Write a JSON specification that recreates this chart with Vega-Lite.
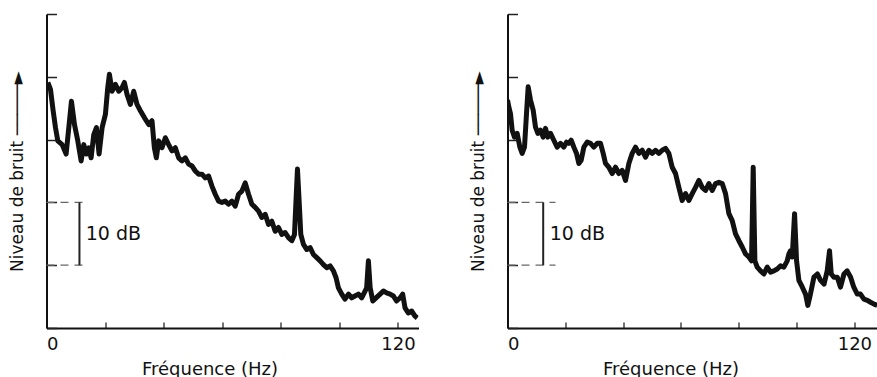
{
  "$schema": "https://vega.github.io/schema/vega-lite/v6.json",
  "padding": {"left": 8.5, "top": 13, "right": 0, "bottom": 0},
  "background": "#ffffff",
  "spacing": 51,
  "config": {
    "font": "DejaVu Sans",
    "view": {"stroke": null},
    "axis": {"grid": false, "titleFontWeight": "normal", "labelColor": "#111", "titleColor": "#111"}
  },
  "datasets": {
    "left": [
      {"f": 0.45, "db": 39.1}, {"f": 1.36, "db": 38.0}, {"f": 2.27, "db": 34.6}, {"f": 3.07, "db": 31.9}, {"f": 3.86, "db": 29.8},
      {"f": 5.34, "db": 29.2}, {"f": 6.7, "db": 27.7}, {"f": 7.61, "db": 31.9}, {"f": 8.52, "db": 36.1}, {"f": 9.55, "db": 32.4},
      {"f": 10.68, "db": 29.8}, {"f": 11.82, "db": 26.6}, {"f": 12.73, "db": 29.2}, {"f": 13.64, "db": 27.7}, {"f": 14.43, "db": 28.7},
      {"f": 15.23, "db": 27.1}, {"f": 16.14, "db": 30.8}, {"f": 17.05, "db": 31.9}, {"f": 17.95, "db": 27.7}, {"f": 18.98, "db": 31.9},
      {"f": 20.11, "db": 34.0}, {"f": 20.91, "db": 38.3}, {"f": 21.48, "db": 40.4}, {"f": 22.39, "db": 37.7}, {"f": 23.52, "db": 38.8},
      {"f": 24.66, "db": 37.7}, {"f": 25.8, "db": 38.3}, {"f": 26.59, "db": 39.1}, {"f": 27.5, "db": 37.2}, {"f": 28.64, "db": 35.6},
      {"f": 29.77, "db": 37.7}, {"f": 30.91, "db": 35.6}, {"f": 32.05, "db": 34.6}, {"f": 33.41, "db": 33.5}, {"f": 34.89, "db": 32.4},
      {"f": 36.02, "db": 33.0}, {"f": 36.82, "db": 28.7}, {"f": 37.5, "db": 27.1}, {"f": 38.3, "db": 29.8}, {"f": 39.43, "db": 28.7},
      {"f": 40.57, "db": 30.3}, {"f": 41.7, "db": 29.2}, {"f": 42.84, "db": 28.2}, {"f": 43.98, "db": 28.7}, {"f": 45.11, "db": 27.1},
      {"f": 46.25, "db": 26.6}, {"f": 47.39, "db": 27.1}, {"f": 48.52, "db": 26.1}, {"f": 49.66, "db": 25.8}, {"f": 50.8, "db": 25.0},
      {"f": 51.93, "db": 24.5}, {"f": 53.07, "db": 24.5}, {"f": 54.2, "db": 23.9}, {"f": 55.34, "db": 24.2}, {"f": 56.48, "db": 22.6},
      {"f": 57.61, "db": 21.3}, {"f": 58.75, "db": 20.2}, {"f": 59.89, "db": 20.0}, {"f": 61.02, "db": 20.2}, {"f": 62.16, "db": 19.7},
      {"f": 63.3, "db": 20.2}, {"f": 64.43, "db": 19.4}, {"f": 65.57, "db": 21.3}, {"f": 66.7, "db": 21.8}, {"f": 67.84, "db": 23.1},
      {"f": 68.98, "db": 21.3}, {"f": 70.11, "db": 19.7}, {"f": 71.25, "db": 19.2}, {"f": 72.39, "db": 18.6}, {"f": 73.52, "db": 17.6},
      {"f": 74.66, "db": 18.1}, {"f": 75.8, "db": 16.5}, {"f": 76.93, "db": 17.0}, {"f": 78.07, "db": 15.4}, {"f": 79.2, "db": 16.0},
      {"f": 80.34, "db": 14.9}, {"f": 81.48, "db": 15.2}, {"f": 82.61, "db": 14.4}, {"f": 83.75, "db": 13.9}, {"f": 84.66, "db": 14.9},
      {"f": 85.23, "db": 20.8}, {"f": 85.68, "db": 25.3}, {"f": 86.25, "db": 20.2}, {"f": 86.82, "db": 14.9}, {"f": 87.73, "db": 13.3},
      {"f": 88.86, "db": 12.5}, {"f": 90.0, "db": 12.8}, {"f": 91.14, "db": 11.7}, {"f": 92.27, "db": 11.2}, {"f": 93.41, "db": 10.7},
      {"f": 94.55, "db": 10.1}, {"f": 95.68, "db": 9.6}, {"f": 96.82, "db": 9.9}, {"f": 97.95, "db": 9.1}, {"f": 98.86, "db": 8.0},
      {"f": 99.66, "db": 6.4}, {"f": 100.8, "db": 5.4}, {"f": 101.9, "db": 4.6}, {"f": 103.1, "db": 5.4}, {"f": 104.2, "db": 4.8},
      {"f": 105.3, "db": 5.1}, {"f": 106.5, "db": 5.4}, {"f": 107.6, "db": 4.8}, {"f": 108.8, "db": 5.9}, {"f": 109.3, "db": 6.4},
      {"f": 109.9, "db": 10.7}, {"f": 110.5, "db": 6.4}, {"f": 111.4, "db": 4.3}, {"f": 112.5, "db": 4.8}, {"f": 113.9, "db": 5.4},
      {"f": 115.0, "db": 5.9}, {"f": 116.1, "db": 5.6}, {"f": 117.3, "db": 5.4}, {"f": 118.4, "db": 5.1}, {"f": 119.5, "db": 4.3},
      {"f": 120.7, "db": 4.8}, {"f": 121.6, "db": 5.4}, {"f": 122.4, "db": 3.2}, {"f": 123.5, "db": 2.4}, {"f": 124.7, "db": 2.7},
      {"f": 125.8, "db": 1.9}, {"f": 126.6, "db": 1.6}
    ],
    "right": [
      {"f": 0.0, "db": 36.3}, {"f": 0.46, "db": 35.2}, {"f": 1.04, "db": 34.1}, {"f": 1.61, "db": 31.5}, {"f": 2.42, "db": 30.4},
      {"f": 3.34, "db": 31.0}, {"f": 4.27, "db": 28.8}, {"f": 5.07, "db": 27.8}, {"f": 5.88, "db": 28.8}, {"f": 6.57, "db": 34.1},
      {"f": 7.15, "db": 38.4}, {"f": 7.96, "db": 36.3}, {"f": 8.88, "db": 34.7}, {"f": 9.69, "db": 32.0}, {"f": 10.5, "db": 31.0},
      {"f": 11.42, "db": 31.5}, {"f": 12.34, "db": 30.4}, {"f": 13.15, "db": 31.8}, {"f": 13.96, "db": 30.4}, {"f": 14.88, "db": 31.0},
      {"f": 16.03, "db": 29.9}, {"f": 17.19, "db": 28.8}, {"f": 18.34, "db": 29.4}, {"f": 19.49, "db": 28.8}, {"f": 20.42, "db": 29.6},
      {"f": 21.22, "db": 29.4}, {"f": 22.03, "db": 29.9}, {"f": 22.95, "db": 28.8}, {"f": 23.88, "db": 27.8}, {"f": 24.68, "db": 26.2},
      {"f": 25.49, "db": 26.7}, {"f": 26.41, "db": 28.8}, {"f": 27.57, "db": 29.6}, {"f": 28.72, "db": 29.4}, {"f": 29.87, "db": 28.8},
      {"f": 31.03, "db": 29.4}, {"f": 32.18, "db": 29.4}, {"f": 33.1, "db": 27.8}, {"f": 33.91, "db": 26.2}, {"f": 35.06, "db": 25.6},
      {"f": 36.22, "db": 24.6}, {"f": 37.37, "db": 25.6}, {"f": 38.52, "db": 24.6}, {"f": 39.68, "db": 25.1}, {"f": 40.83, "db": 23.5},
      {"f": 41.98, "db": 26.2}, {"f": 43.14, "db": 27.8}, {"f": 44.29, "db": 28.8}, {"f": 45.44, "db": 27.8}, {"f": 46.6, "db": 28.3},
      {"f": 47.75, "db": 27.2}, {"f": 48.9, "db": 28.3}, {"f": 50.06, "db": 27.8}, {"f": 51.21, "db": 28.3}, {"f": 52.36, "db": 27.8},
      {"f": 53.52, "db": 28.3}, {"f": 54.67, "db": 28.6}, {"f": 55.82, "db": 27.8}, {"f": 56.98, "db": 25.6}, {"f": 58.13, "db": 24.6},
      {"f": 59.28, "db": 22.4}, {"f": 60.44, "db": 20.3}, {"f": 61.59, "db": 21.4}, {"f": 62.75, "db": 20.3}, {"f": 63.9, "db": 21.4},
      {"f": 65.05, "db": 22.4}, {"f": 66.21, "db": 23.5}, {"f": 67.36, "db": 22.4}, {"f": 68.51, "db": 21.9}, {"f": 69.67, "db": 23.0},
      {"f": 70.82, "db": 21.9}, {"f": 71.97, "db": 23.0}, {"f": 73.13, "db": 23.2}, {"f": 74.28, "db": 23.0}, {"f": 75.43, "db": 21.4},
      {"f": 76.59, "db": 18.2}, {"f": 77.74, "db": 17.1}, {"f": 78.89, "db": 15.0}, {"f": 80.05, "db": 13.9}, {"f": 81.2, "db": 12.9},
      {"f": 82.35, "db": 11.8}, {"f": 83.51, "db": 11.3}, {"f": 84.43, "db": 10.7}, {"f": 85.0, "db": 25.6}, {"f": 85.58, "db": 10.7},
      {"f": 86.39, "db": 9.7}, {"f": 87.54, "db": 9.1}, {"f": 88.7, "db": 8.6}, {"f": 89.85, "db": 9.7}, {"f": 91.0, "db": 8.9},
      {"f": 92.16, "db": 9.1}, {"f": 93.31, "db": 9.4}, {"f": 94.46, "db": 9.9}, {"f": 95.62, "db": 9.7}, {"f": 96.77, "db": 10.7},
      {"f": 97.35, "db": 11.8}, {"f": 97.92, "db": 12.3}, {"f": 98.5, "db": 11.3}, {"f": 99.31, "db": 18.2}, {"f": 100.0, "db": 10.7},
      {"f": 100.8, "db": 7.6}, {"f": 102.0, "db": 6.5}, {"f": 103.1, "db": 5.4}, {"f": 103.9, "db": 3.6}, {"f": 104.8, "db": 5.4},
      {"f": 106.0, "db": 8.1}, {"f": 107.2, "db": 8.6}, {"f": 108.3, "db": 7.6}, {"f": 109.5, "db": 7.0}, {"f": 110.6, "db": 9.1},
      {"f": 111.4, "db": 12.3}, {"f": 112.0, "db": 8.6}, {"f": 112.9, "db": 8.1}, {"f": 114.1, "db": 8.1}, {"f": 115.2, "db": 6.5},
      {"f": 116.4, "db": 8.6}, {"f": 117.5, "db": 9.1}, {"f": 118.7, "db": 8.1}, {"f": 119.8, "db": 6.5}, {"f": 121.0, "db": 5.4},
      {"f": 122.1, "db": 5.4}, {"f": 123.3, "db": 4.6}, {"f": 124.5, "db": 4.4}, {"f": 125.6, "db": 4.1}, {"f": 126.8, "db": 3.8},
      {"f": 127.9, "db": 3.6}
    ],
    "leftDash": [{"x": 0, "x2": 14.3, "y": 20}, {"x": 0, "x2": 14.3, "y": 10}],
    "leftBar": [{"x": 11.25, "y": 10, "y2": 20}],
    "leftText": [{"x": 13.4, "y": 14.9, "label": "10 dB"}],
    "rightDash": [{"x": 0, "x2": 16.6, "y": 20}, {"x": 0, "x2": 16.6, "y": 10}],
    "rightBar": [{"x": 12.35, "y": 10, "y2": 20}],
    "rightText": [{"x": 14.6, "y": 15.0, "label": "10 dB"}]
  },
  "hconcat": [
    {
      "width": 372,
      "height": 314,
      "layer": [
        {
          "data": {"name": "left"},
          "mark": {"type": "line", "color": "#111", "strokeWidth": 5, "strokeJoin": "round", "clip": true},
          "encoding": {
            "x": {"field": "f", "type": "quantitative", "scale": {"domain": [0, 127], "nice": false, "zero": false},
              "axis": {"title": "Fréquence (Hz)", "values": [0, 20, 40, 60, 80, 100, 120],
                "labelExpr": "datum.value == 0 || datum.value == 120 ? datum.label : ''",
                "tickSize": -6, "tickColor": "#444", "tickWidth": 1.5, "domainColor": "#111", "domainWidth": 2,
                "labelFontSize": 18, "labelPadding": 13, "titleFontSize": 18, "titleX": 163, "titleY": 41, "titleBaseline": "middle"}},
            "y": {"field": "db", "type": "quantitative", "scale": {"domain": [0, 50], "nice": false},
              "axis": {"title": "Niveau de bruit  ─────►", "values": [0, 10, 20, 30, 40, 50], "labels": false,
                "tickSize": -10, "tickColor": "#222", "tickWidth": 1.5, "domainColor": "#111", "domainWidth": 2,
                "titleFontSize": 17, "titleX": -29, "titleBaseline": "middle", "titleLimit": 400}}
          }
        },
        {
          "data": {"name": "leftDash"},
          "mark": {"type": "rule", "strokeDash": [8, 6], "color": "#666", "strokeWidth": 1.2},
          "encoding": {"x": {"field": "x", "type": "quantitative"}, "x2": {"field": "x2"}, "y": {"field": "y", "type": "quantitative"}}
        },
        {
          "data": {"name": "leftBar"},
          "mark": {"type": "rule", "color": "#222", "strokeWidth": 2},
          "encoding": {"x": {"field": "x", "type": "quantitative"}, "y": {"field": "y", "type": "quantitative"}, "y2": {"field": "y2"}}
        },
        {
          "data": {"name": "leftText"},
          "mark": {"type": "text", "align": "left", "baseline": "middle", "fontSize": 19, "color": "#111"},
          "encoding": {"x": {"field": "x", "type": "quantitative"}, "y": {"field": "y", "type": "quantitative"}, "text": {"field": "label"}}
        }
      ]
    },
    {
      "width": 370,
      "height": 314,
      "layer": [
        {
          "data": {"name": "right"},
          "mark": {"type": "line", "color": "#111", "strokeWidth": 5, "strokeJoin": "round", "clip": true},
          "encoding": {
            "x": {"field": "f", "type": "quantitative", "scale": {"domain": [0, 128], "nice": false, "zero": false},
              "axis": {"title": "Fréquence (Hz)", "values": [0, 20, 40, 60, 80, 100, 120],
                "labelExpr": "datum.value == 0 || datum.value == 120 ? datum.label : ''",
                "tickSize": -6, "tickColor": "#444", "tickWidth": 1.5, "domainColor": "#111", "domainWidth": 2,
                "labelFontSize": 18, "labelPadding": 13, "titleFontSize": 18, "titleX": 163, "titleY": 41, "titleBaseline": "middle"}},
            "y": {"field": "db", "type": "quantitative", "scale": {"domain": [0, 50], "nice": false},
              "axis": {"title": "Niveau de bruit  ─────►", "values": [0, 10, 20, 30, 40, 50], "labels": false,
                "tickSize": -10, "tickColor": "#222", "tickWidth": 1.5, "domainColor": "#111", "domainWidth": 2,
                "titleFontSize": 17, "titleX": -29, "titleBaseline": "middle", "titleLimit": 400}}
          }
        },
        {
          "data": {"name": "rightDash"},
          "mark": {"type": "rule", "strokeDash": [8, 6], "color": "#666", "strokeWidth": 1.2},
          "encoding": {"x": {"field": "x", "type": "quantitative"}, "x2": {"field": "x2"}, "y": {"field": "y", "type": "quantitative"}}
        },
        {
          "data": {"name": "rightBar"},
          "mark": {"type": "rule", "color": "#222", "strokeWidth": 2},
          "encoding": {"x": {"field": "x", "type": "quantitative"}, "y": {"field": "y", "type": "quantitative"}, "y2": {"field": "y2"}}
        },
        {
          "data": {"name": "rightText"},
          "mark": {"type": "text", "align": "left", "baseline": "middle", "fontSize": 19, "color": "#111"},
          "encoding": {"x": {"field": "x", "type": "quantitative"}, "y": {"field": "y", "type": "quantitative"}, "text": {"field": "label"}}
        }
      ]
    }
  ]
}
